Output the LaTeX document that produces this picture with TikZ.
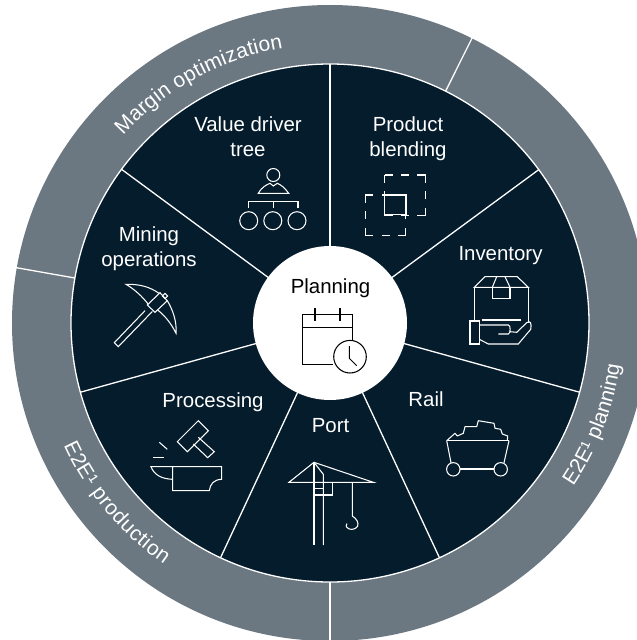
\documentclass[tikz,border=0pt]{standalone}
\usepackage{fontspec}
\setmainfont{Liberation Sans}
\usetikzlibrary{decorations.text,calc}
\definecolor{navy}{HTML}{051C2C}
\definecolor{ringgray}{HTML}{6B7881}
\newcommand{\lblfont}{\fontsize{20.5}{25}\selectfont}
\newcommand{\ringfont}{\fontsize{21}{25}\selectfont\color{white}}
\tikzset{
  spoke/.style={draw=white,line width=1.3bp},
  icon/.style={draw=white,line width=1.05bp,line join=miter},
  iconk/.style={draw=black,line width=1.05bp},
  lbl/.style={text=white,font=\lblfont,align=center,anchor=base,inner sep=0pt},
  ringtext/.style={decorate},
  dashbox/.style={icon,dash pattern=on 16bp off 8.3bp on 8bp off 8.3bp,dash phase=8bp}
}
\begin{document}
\begin{tikzpicture}[x=1bp,y=1bp]
\useasboundingbox (0,0) rectangle (637,-640);
\clip (0,0) rectangle (637,-640);
\coordinate (c) at (330,-323);
% ring and disc
\fill[ringgray] (c) circle[radius=318];
\draw[spoke,fill=navy] (c) circle[radius=259];
% ring dividers
\foreach \a/\n in {63.5/ra,170/rb,270/rc}{
  \draw[spoke] ($(c)+(\a:259)$) -- ($(c)+(\a:319)$);
}
% spokes
\foreach \a in {90,36.3,-15.5,-65,245,195.5,143.6}{
  \draw[spoke] ($(c)+(\a:76)$) -- ($(c)+(\a:259)$);
}
% hub
\fill[white] (c) circle[radius=77];
% ring texts
\path[decoration={text along path,text={|\ringfont|Margin optimization},text align=fit to path},ringtext]
  ($(c)+(137.8:279)$) arc[start angle=137.8,end angle=99.7,radius=279];
\path[decoration={text along path,text={|\ringfont|E2E¹ production},text align=fit to path},ringtext]
  ($(c)+(204.6:293)$) arc[start angle=204.6,end angle=235.5,radius=293];
\path[decoration={text along path,text={|\ringfont|E2E¹ planning},text align=fit to path},ringtext]
  ($(c)+(-33.9:293)$) arc[start angle=-33.9,end angle=-8.6,radius=293];
% labels
\node[lbl] (tvalue) at (248,-156.7) {Value driver\\tree};
\node[lbl] (tblend) at (408,-156.7) {Product\\blending};
\node[lbl] (tmine) at (149,-266.7) {Mining\\operations};
\node[lbl] (tinv) at (500.5,-260) {Inventory};
\node[lbl] (tproc) at (213,-407) {Processing};
\node[lbl] (tport) at (330.5,-432.7) {Port};
\node[lbl] (trail) at (426,-406.7) {Rail};
\node[lbl,text=black] (tplan) at (330.5,-293.3) {Planning};
\begin{scope}[y=-1bp]
% value driver tree
\draw[icon] (273.3,175) circle[radius=6.5];
\draw[icon] (258.3,193.3) -- (288.7,193.3) .. controls (284,187) and (281,185) .. (277.3,183.3) -- (273.3,186) -- (270,183.3) .. controls (266,185) and (262,187) .. (258.3,193.3) -- cycle;
\draw[icon] (248.3,208) -- (248.3,201.7) -- (298,201.7) -- (298,208);
\draw[icon] (273.3,201.7) -- (273.3,208);
\foreach \x in {248.7,272.8,297}{\draw[icon] (\x,220.7) circle[radius=9];}
% product blending
\draw[dashbox] (384.7,175) rectangle (425.3,215.6);
\draw[dashbox] (365.3,195) rectangle (405.9,235.6);
\draw[icon] (384.7,195) rectangle (406,214.3);
% pick
\draw[icon] (147.3,305) -- (160,292.7) -- (167.3,300.7) -- (155,312.3) -- cycle;
\draw[icon] (159,293.3) .. controls (150,287) and (140,284) .. (126,284.3) .. controls (134,289) and (142,296) .. (148.3,304.3);
\draw[icon] (167.3,300.7) .. controls (173,310) and (177,322) .. (176,333.3) .. controls (171,323) and (165,316) .. (157.7,310);
\draw[icon] (145,310.7) -- (114.3,342.7) -- (118.3,346.7) -- (152.3,311.5);
\draw[icon,rotate around={45:(165,296)}] (163.2,294.2) rectangle (166.8,297.8);
% inventory
\draw[icon] (474.3,287.3) -- (485,276.7) -- (517.3,276.7) -- (528.3,287.3) -- cycle;
\draw[icon] (474.3,287.3) -- (474.3,320);
\draw[icon] (528.3,287.3) -- (528.3,323);
\draw[icon] (492.3,287.3) -- (496.7,276.7);
\draw[icon] (505,276.7) -- (510,287.3);
\draw[icon] (492.3,287.3) -- (492.3,298.3) -- (510,298.3) -- (510,287.3);
\draw[icon] (470,321) rectangle (479.3,344);
\draw[icon] (481.7,320) -- (520.7,320);
\draw[icon] (479.3,325) -- (508.3,325) .. controls (511,325) and (510.5,334) .. (508.3,334) -- (498.3,334);
\draw[icon] (510,331.7) -- (516.7,332.3) -- (526.7,322.7) .. controls (530,320) and (532,323) .. (530.7,329.3) -- (518.3,344) -- (488.3,344) -- (479.3,339.3);
% planning
\draw[iconk] (333,364.3) -- (302.7,364.3) -- (302.7,314.3) -- (352.7,314.3) -- (352.7,340.7);
\draw[iconk] (302.7,327.3) -- (352.7,327.3);
\draw[iconk] (315,308.3) -- (315,320.7);
\draw[iconk] (340,308.3) -- (340,320.7);
\draw[iconk] (350,356.7) circle[radius=16.3];
\draw[iconk] (349.3,346) -- (349.3,358.3) -- (356.7,365.7);
% anvil
\draw[icon] (198.3,420.7) -- (208.3,430.7) -- (187.3,451.7) -- (177.3,441.7) -- cycle;
\draw[icon] (198.3,437.3) -- (214.3,451.7) -- (207.7,457.7) -- (193.3,444);
\draw[icon] (159.3,442.3) -- (167.3,449.3);
\draw[icon] (153.3,457.7) -- (164,457.7);
\draw[icon] (172.7,479.3) -- (172.7,466.7) -- (221.7,466.7) -- (221.7,479.3) .. controls (214,479.5) and (210,484) .. (209.3,490.7) -- (172.7,490.7) -- (172.7,479.3) .. controls (162,479) and (154,475) .. (151,466.7) -- (172.7,466.7);
% crane
\draw[icon] (289,482.3) -- (314,462.3) -- (373.3,482.3) -- cycle;
\draw[icon] (314,462.3) -- (314,545);
\draw[icon] (314,462.3) -- (323.3,474.3) -- (323.3,545);
\draw[icon] (314,482.3) -- (332.3,482.3) -- (332.3,495) -- (314,495);
\draw[icon] (314,488.3) -- (323.3,488.3);
\draw[icon] (352.3,482.3) -- (352.3,516) .. controls (357,519) and (359,523) .. (357.5,526.5) .. controls (355,530) and (349,530.5) .. (346.5,527) .. controls (346,526) and (346,525.5) .. (347,523.5);
% cart
\draw[icon] (446.7,440.7) -- (509,440.7);
\draw[icon] (446.7,440.7) -- (451,462.7);
\draw[icon] (509,440.7) -- (504,462.7);
\draw[icon] (453.3,469.3) circle[radius=6.7];
\draw[icon] (500.7,469.3) circle[radius=6.7];
\draw[icon] (460,469) -- (494,469);
\draw[icon,line join=round] (446.7,440.7) -- (455,433.3) -- (457.3,436) -- (463.3,433.3) -- (465,426.7) -- (476.7,426.7) -- (478.3,420.7) -- (494,423.3) -- (495,428.3) -- (500.7,429.3) -- (502.3,434) -- (507.7,436) -- (507.3,440.7);
\end{scope}
\end{tikzpicture}
\end{document}
